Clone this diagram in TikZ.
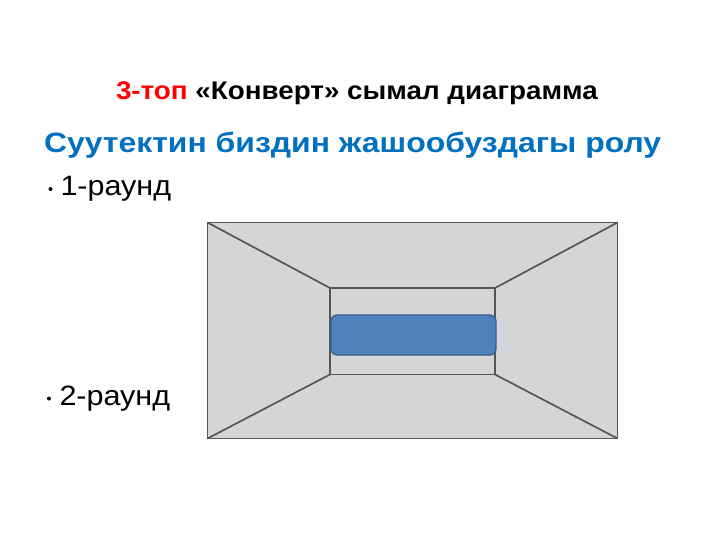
\documentclass[tikz,border=0pt]{standalone}
\usepackage{fontspec}
\setmainfont{Liberation Sans}
\definecolor{envfill}{RGB}{211,213,215}
\definecolor{envline}{RGB}{85,85,85}
\definecolor{boxblue}{RGB}{79,129,189}
\definecolor{boxedge}{RGB}{56,93,138}
\definecolor{subblue}{RGB}{0,112,192}
\begin{document}
\begin{tikzpicture}[x=1pt,y=-1pt,
  envline/.style={draw=envline,line width=1.7pt},
  txt/.style={anchor=base west,inner sep=0pt,outer sep=0pt},
  bulletdot/.style={circle,fill=black,inner sep=0pt,minimum size=4pt}]
\useasboundingbox (0,0) rectangle (720,540);
% envelope
\coordinate (o1) at (207.5,222.5);
\coordinate (o2) at (617.5,222.5);
\coordinate (o3) at (617.5,438.5);
\coordinate (o4) at (207.5,438.5);
\coordinate (i1) at (330,288);
\coordinate (i2) at (495,288);
\coordinate (i3) at (495,374.5);
\coordinate (i4) at (330,374.5);
\fill[envfill] (o1) rectangle (o3);
\draw[envline] (o1) -- (i1) (o2) -- (i2) (o3) -- (i3) (o4) -- (i4);
\draw[envline] (i1) rectangle (i3);
\draw[envline] (o1) rectangle (o3);
\node[draw=boxedge,fill=boxblue,line width=1.2pt,rounded corners=6pt,minimum width=165pt,minimum height=40pt,inner sep=0pt] (blue) at (413.5,335) {};
% texts
\node[txt,font=\bfseries\fontsize{25.5}{28}\selectfont] (title) at (116,99.5) {\scalebox{1.09}[1]{\textcolor{red}{3-топ} «Конверт» сымал диаграмма}};
\node[txt,font=\bfseries\fontsize{28}{32}\selectfont,text=subblue] (sub) at (44,152.5) {\scalebox{1.14}[1]{Суутектин биздин жашообуздагы ролу}};
\node[bulletdot] (b1) at (50.5,189) {};
\node[txt,font=\fontsize{28}{32}\selectfont] (r1) at (60.5,195.3) {\scalebox{1.09}[1]{1-раунд}};
\node[bulletdot] (b2) at (49,398.5) {};
\node[txt,font=\fontsize{28}{32}\selectfont] (r2) at (59.5,405) {\scalebox{1.09}[1]{2-раунд}};
\end{tikzpicture}
\end{document}
